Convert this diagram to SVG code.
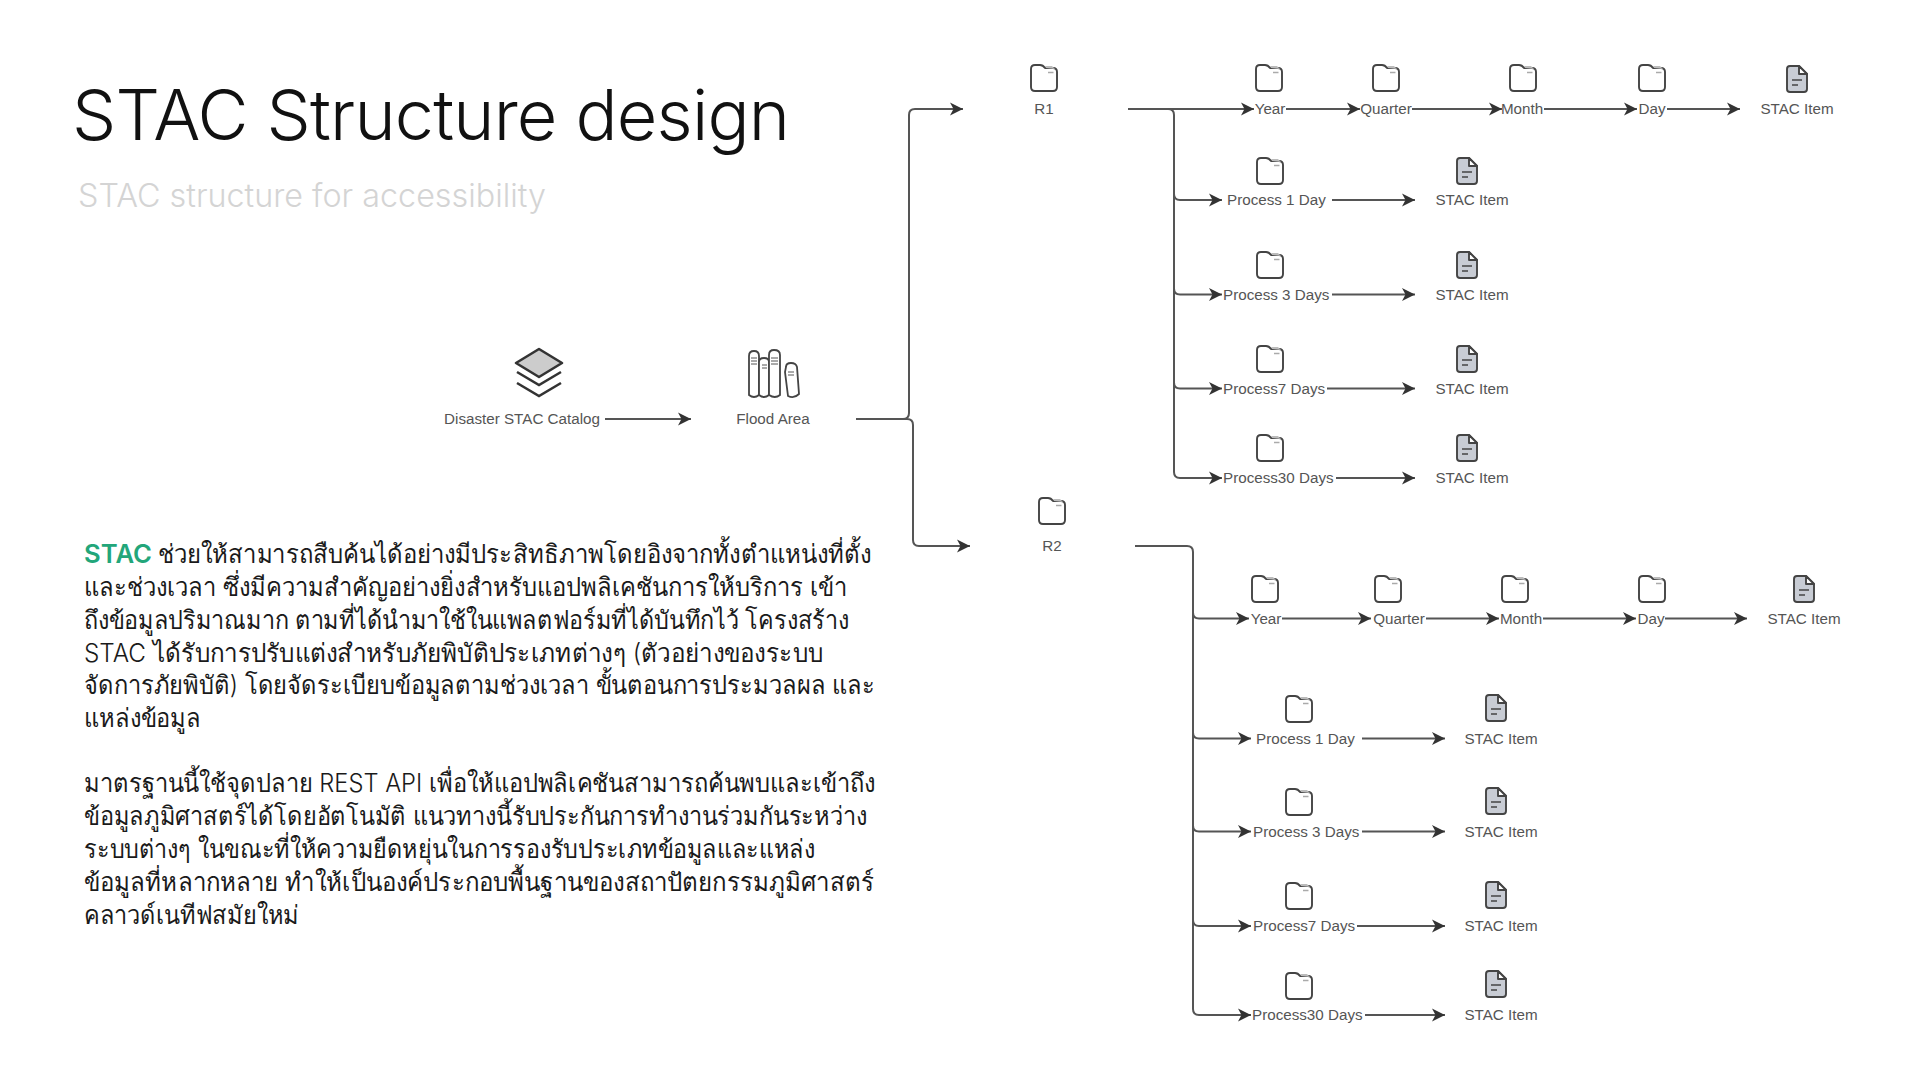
<svg xmlns="http://www.w3.org/2000/svg" width="1920" height="1080" viewBox="0 0 1920 1080">
<style>
.t{font-family:"Inter","Noto Sans","Liberation Sans",sans-serif}
.title{font-size:70px;fill:#111;font-weight:300;letter-spacing:-.8px}
.sub{font-size:32.3px;fill:#d4d4d4;font-weight:300}
.body{font-size:25.5px;fill:#1a1a1a;font-weight:300}
.stac{font-weight:600;fill:#22a67a}
.l{font-family:"Liberation Sans",Arial,sans-serif;font-size:15.2px;fill:#555}
.m{text-anchor:middle}
.c{fill:none;stroke:#555;stroke-width:2;marker-end:url(#a)}
.n{fill:none;stroke:#555;stroke-width:2}
.ic{fill:#fff;stroke:#444;stroke-width:1.9;stroke-linejoin:round}
</style>
<defs>
<marker id="a" markerUnits="userSpaceOnUse" markerWidth="16" markerHeight="16" refX="14" refY="8" orient="auto">
<path d="M1 1.500 L14 8 L1 14.500 L4.500 8Z" fill="#333"/>
</marker>
<g id="folder">
<path class="ic" d="M-13 -9 Q-13 -13 -9 -13 L-4 -13 Q-1 -13 1 -10 L9 -10 Q13 -10 13 -6 L13 9 Q13 13 9 13 L-9 13 Q-13 13 -13 9Z"/>
<path d="M1 -12 L8 -12 L11 -9 L2 -10Z" fill="#bbb"/>
<path d="M4 -5.500 H9.500" stroke="#aaa" stroke-width="1.500"/>
</g>
<g id="doc">
<path class="ic" style="fill:#c8ccd4" d="M-7 -13 L2 -13 L10 -5 L10 10 Q10 13 7 13 L-7 13 Q-10 13 -10 10 L-10 -10 Q-10 -13 -7 -13Z"/>
<path class="ic" d="M2 -13 L2 -5 L10 -5Z"/>
<path d="M-5 1 H5 M-5 6 H1" stroke="#444" stroke-width="1.700"/>
</g>
</defs>
<rect width="1920" height="1080" fill="#fff"/>

<text class="t title" x="72" y="140">STAC Structure design</text>
<text class="t sub" x="78" y="207">STAC structure for accessibility</text>

<g id="body-text" class="t body">
<text class="stac" x="84" y="563" textLength="68" lengthAdjust="spacingAndGlyphs">STAC</text>
<text x="158" y="563" textLength="713" lengthAdjust="spacingAndGlyphs">ช่วยให้สามารถสืบค้นได้อย่างมีประสิทธิภาพโดยอิงจากทั้งตำแหน่งที่ตั้ง</text>
<text x="84" y="596" textLength="763" lengthAdjust="spacingAndGlyphs">และช่วงเวลา ซึ่งมีความสำคัญอย่างยิ่งสำหรับแอปพลิเคชันการให้บริการ เข้า</text>
<text x="84" y="629" textLength="765" lengthAdjust="spacingAndGlyphs">ถึงข้อมูลปริมาณมาก ตามที่ได้นำมาใช้ในแพลตฟอร์มที่ได้บันทึกไว้ โครงสร้าง</text>
<text x="84" y="662" textLength="739" lengthAdjust="spacingAndGlyphs">STAC ได้รับการปรับแต่งสำหรับภัยพิบัติประเภทต่างๆ (ตัวอย่างของระบบ</text>
<text x="84" y="694" textLength="791" lengthAdjust="spacingAndGlyphs">จัดการภัยพิบัติ) โดยจัดระเบียบข้อมูลตามช่วงเวลา ขั้นตอนการประมวลผล และ</text>
<text x="84" y="727" textLength="117" lengthAdjust="spacingAndGlyphs">แหล่งข้อมูล</text>
<text x="84" y="792" textLength="791" lengthAdjust="spacingAndGlyphs">มาตรฐานนี้ใช้จุดปลาย REST API เพื่อให้แอปพลิเคชันสามารถค้นพบและเข้าถึง</text>
<text x="84" y="825" textLength="783" lengthAdjust="spacingAndGlyphs">ข้อมูลภูมิศาสตร์ได้โดยอัตโนมัติ แนวทางนี้รับประกันการทำงานร่วมกันระหว่าง</text>
<text x="84" y="858" textLength="731" lengthAdjust="spacingAndGlyphs">ระบบต่างๆ ในขณะที่ให้ความยืดหยุ่นในการรองรับประเภทข้อมูลและแหล่ง</text>
<text x="84" y="891" textLength="790" lengthAdjust="spacingAndGlyphs">ข้อมูลที่หลากหลาย ทำให้เป็นองค์ประกอบพื้นฐานของสถาปัตยกรรมภูมิศาสตร์</text>
<text x="84" y="924" textLength="215" lengthAdjust="spacingAndGlyphs">คลาวด์เนทีฟสมัยใหม่</text>
</g>

<g id="connectors">
<path class="c" d="M605 419H691"/>
<path class="c" d="M856 419H903Q909 419 909 413V115Q909 109 915 109H963"/>
<path class="c" d="M856 419H907Q913 419 913 425V540Q913 546 919 546H970"/>
<path class="c" d="M1128 109H1254"/><path class="c" d="M1286 109H1360"/><path class="c" d="M1412 109H1502"/><path class="c" d="M1544 109H1637"/><path class="c" d="M1667 109H1740"/>
<path class="n" d="M1168 109Q1174 109 1174 115V472Q1174 478 1180 478"/>
<path class="c" d="M1174 194Q1174 200 1180 200H1222"/><path class="c" d="M1174 288.500Q1174 294.500 1180 294.500H1222"/><path class="c" d="M1174 382.500Q1174 388.500 1180 388.500H1222"/><path class="c" d="M1180 478H1222"/>
<path class="c" d="M1332 200H1415"/><path class="c" d="M1332 294.500H1415"/><path class="c" d="M1327 388.500H1415"/><path class="c" d="M1336 478H1415"/>
<path class="n" d="M1135 546H1187Q1193 546 1193 552V1009Q1193 1015 1199 1015"/>
<path class="c" d="M1193 612.500Q1193 618.500 1199 618.500H1249"/><path class="c" d="M1282 618.500H1371"/><path class="c" d="M1426 618.500H1499"/><path class="c" d="M1543 618.500H1636"/><path class="c" d="M1665 618.500H1747"/>
<path class="c" d="M1193 732.500Q1193 738.500 1199 738.500H1251"/><path class="c" d="M1193 825.500Q1193 831.500 1199 831.500H1251"/><path class="c" d="M1193 920Q1193 926 1199 926H1251"/><path class="c" d="M1199 1015H1251"/>
<path class="c" d="M1362 738.500H1445"/><path class="c" d="M1362 831.500H1445"/><path class="c" d="M1357 926H1445"/><path class="c" d="M1365 1015H1445"/>
</g>

<g id="catalog">
<path d="M539 349L562 363L539 377L516 363Z" fill="#ccc" stroke="#333" stroke-width="2.600" stroke-linejoin="round"/>
<path d="M517 372L539 385L561 372M517 383L539 396L561 383" fill="none" stroke="#333" stroke-width="2.600"/>
<text class="l m" x="522" y="424">Disaster STAC Catalog</text>
</g>
<g id="flood-area">
<g fill="#fff" stroke="#444" stroke-width="1.800">
<path d="M749 395V356Q749 351 754 351Q759 351 759 356V395Q754 399 749 395Z"/>
<path d="M759 395V362Q759 358 764 358Q769 358 769 362V395Q764 399 759 395Z"/>
<path d="M769 395V355Q769 350 774 350Q780 350 780 355V395Q775 399 769 395Z"/>
<path d="M786 367Q786 363 791 363Q796 363 797 367L799 394Q794 399 788 396L785 372Z"/>
</g>
<path d="M751 358H757M751 361H757M751 364H757M762 365H767M762 368H767M771 358H778M771 361H778M771 364H778M788 372H794M788 375H794" stroke="#555" stroke-width="1"/>
<text class="l m" x="773" y="424">Flood Area</text>
</g>

<g id="r1"><use href="#folder" x="1044" y="78"/><text class="l m" x="1044" y="114">R1</text></g>
<g id="r1-year"><use href="#folder" x="1269" y="78"/><text class="l m" x="1270" y="114">Year</text></g>
<g id="r1-quarter"><use href="#folder" x="1386" y="78"/><text class="l m" x="1386" y="114">Quarter</text></g>
<g id="r1-month"><use href="#folder" x="1523" y="78"/><text class="l m" x="1522" y="114">Month</text></g>
<g id="r1-day"><use href="#folder" x="1652" y="78"/><text class="l m" x="1652" y="114">Day</text></g>
<g id="r1-item"><use href="#doc" x="1797" y="79"/><text class="l m" x="1797" y="114">STAC Item</text></g>
<g id="r1-p1"><use href="#folder" x="1270" y="171"/><text class="l" x="1227" y="205">Process 1 Day</text></g>
<g id="r1-p1-item"><use href="#doc" x="1467" y="171"/><text class="l m" x="1472" y="205">STAC Item</text></g>
<g id="r1-p3"><use href="#folder" x="1270" y="265"/><text class="l" x="1223" y="300">Process 3 Days</text></g>
<g id="r1-p3-item"><use href="#doc" x="1467" y="265"/><text class="l m" x="1472" y="300">STAC Item</text></g>
<g id="r1-p7"><use href="#folder" x="1270" y="359"/><text class="l" x="1223" y="394">Process7 Days</text></g>
<g id="r1-p7-item"><use href="#doc" x="1467" y="359"/><text class="l m" x="1472" y="394">STAC Item</text></g>
<g id="r1-p30"><use href="#folder" x="1270" y="448"/><text class="l" x="1223" y="483">Process30 Days</text></g>
<g id="r1-p30-item"><use href="#doc" x="1467" y="448"/><text class="l m" x="1472" y="483">STAC Item</text></g>

<g id="r2"><use href="#folder" x="1052" y="511"/><text class="l m" x="1052" y="551">R2</text></g>
<g id="r2-year"><use href="#folder" x="1265" y="589"/><text class="l m" x="1266" y="624">Year</text></g>
<g id="r2-quarter"><use href="#folder" x="1388" y="589"/><text class="l m" x="1399" y="624">Quarter</text></g>
<g id="r2-month"><use href="#folder" x="1515" y="589"/><text class="l m" x="1521" y="624">Month</text></g>
<g id="r2-day"><use href="#folder" x="1652" y="589"/><text class="l m" x="1651" y="624">Day</text></g>
<g id="r2-item"><use href="#doc" x="1804" y="589"/><text class="l m" x="1804" y="624">STAC Item</text></g>
<g id="r2-p1"><use href="#folder" x="1299" y="709"/><text class="l" x="1256" y="744">Process 1 Day</text></g>
<g id="r2-p1-item"><use href="#doc" x="1496" y="708"/><text class="l m" x="1501" y="744">STAC Item</text></g>
<g id="r2-p3"><use href="#folder" x="1299" y="802"/><text class="l" x="1253" y="837">Process 3 Days</text></g>
<g id="r2-p3-item"><use href="#doc" x="1496" y="801"/><text class="l m" x="1501" y="837">STAC Item</text></g>
<g id="r2-p7"><use href="#folder" x="1299" y="896"/><text class="l" x="1253" y="931">Process7 Days</text></g>
<g id="r2-p7-item"><use href="#doc" x="1496" y="895"/><text class="l m" x="1501" y="931">STAC Item</text></g>
<g id="r2-p30"><use href="#folder" x="1299" y="986"/><text class="l" x="1252" y="1020">Process30 Days</text></g>
<g id="r2-p30-item"><use href="#doc" x="1496" y="984"/><text class="l m" x="1501" y="1020">STAC Item</text></g>
</svg>
